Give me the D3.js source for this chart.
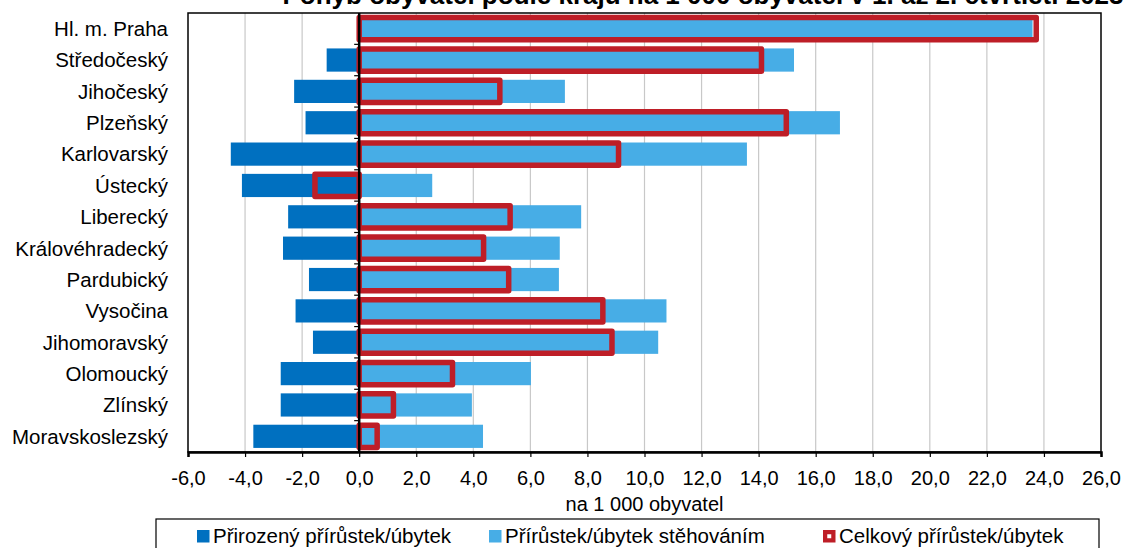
<!DOCTYPE html>
<html>
<head>
<meta charset="utf-8">
<script src="https://cdn.jsdelivr.net/npm/d3@7"></script>
<style>
  body { margin: 0; background: #fff; }
  svg { display: block; font-family: "Liberation Sans", Arial, sans-serif; }
</style>
</head>
<body>
<svg id="chart" width="1126" height="548"></svg>
<script>
// Kraje a hodnoty na 1 000 obyvatel
var regions   = ["Hl. m. Praha", "Středočeský", "Jihočeský", "Plzeňský", "Karlovarský", "Ústecký",
                 "Liberecký", "Královéhradecký", "Pardubický", "Vysočina", "Jihomoravský",
                 "Olomoucký", "Zlínský", "Moravskoslezský"];
var natural   = [0.1, -1.14, -2.28, -1.88, -4.50, -4.11, -2.49, -2.67, -1.76, -2.23, -1.62, -2.75, -2.75, -3.71];
var migration = [23.6, 15.24, 7.21, 16.85, 13.59, 2.56, 7.78, 7.03, 7.00, 10.77, 10.48, 6.02, 3.95, 4.34];
var total     = [23.73, 14.10, 4.93, 14.97, 9.09, -1.55, 5.29, 4.36, 5.24, 8.54, 8.86, 3.27, 1.20, 0.63];
var xTicks    = [-6, -4, -2, 0, 2, 4, 6, 8, 10, 12, 14, 16, 18, 20, 22, 24, 26];
var legendLabels = ["Přirozený přírůstek/úbytek", "Přírůstek/úbytek stěhováním", "Celkový přírůstek/úbytek"];

var colDark = "#0070c0", colLight = "#47ade6", colRed = "#be1e27";

var svg = d3.select("#chart");
var margin = { left: 188, right: 1101, top: 13, bottom: 452 };

var x = d3.scaleLinear().domain([-6, 26]).range([margin.left, margin.right]);
var y = d3.scaleBand().domain(regions).range([margin.top, margin.bottom])
          .paddingInner(0.26).paddingOuter(0.13);

var fmt = function(v) { return d3.format(".1f")(v).replace(".", ",").replace("−", "-"); };

// Title (top of it is cut off in the original)
svg.append("text")
   .attr("x", 703).attr("y", 4)
   .attr("text-anchor", "middle")
   .style("font-size", "26px").style("font-weight", "bold")
   .text("Pohyb obyvatel podle krajů na 1 000 obyvatel v 1. až 2. čtvrtletí 2023");

// gridlines
svg.append("g").selectAll("line")
   .data(xTicks.filter(function(d) { return d > -6 && d < 26; }))
   .enter().append("line")
   .attr("x1", function(d) { return x(d); }).attr("x2", function(d) { return x(d); })
   .attr("y1", margin.top).attr("y2", margin.bottom)
   .attr("stroke", "#c8c8c8").attr("stroke-width", 1.2);

function barX(v) { return Math.min(x(0), x(v)); }
function barW(v) { return Math.abs(x(v) - x(0)); }

var rows = regions.map(function(r, i) {
    return { name: r, nat: natural[i], mig: migration[i], tot: total[i] };
});

// natural
svg.append("g").selectAll("rect").data(rows).enter().append("rect")
   .attr("x", function(d) { return barX(d.nat); })
   .attr("y", function(d) { return y(d.name); })
   .attr("width", function(d) { return barW(d.nat); })
   .attr("height", y.bandwidth())
   .attr("fill", colDark);

// migration
svg.append("g").selectAll("rect").data(rows).enter().append("rect")
   .attr("x", function(d) { return barX(d.mig); })
   .attr("y", function(d) { return y(d.name); })
   .attr("width", function(d) { return barW(d.mig); })
   .attr("height", y.bandwidth())
   .attr("fill", colLight);

// total - outline only
svg.append("g").selectAll("rect").data(rows).enter().append("rect")
   .attr("x", function(d) { return barX(d.tot); })
   .attr("y", function(d) { return y(d.name) + 0.5; })
   .attr("width", function(d) { return barW(d.tot); })
   .attr("height", y.bandwidth() - 1)
   .attr("fill", "none")
   .attr("stroke", colRed).attr("stroke-width", 5.5)
   .attr("stroke-linejoin", "round");

// plot border
svg.append("rect")
   .attr("x", margin.left).attr("y", margin.top)
   .attr("width", margin.right - margin.left).attr("height", margin.bottom - margin.top)
   .attr("fill", "none").attr("stroke", "#000").attr("stroke-width", 1.5);

// zero (category) axis with ticks at band boundaries
svg.append("line")
   .attr("x1", x(0)).attr("x2", x(0))
   .attr("y1", margin.top).attr("y2", margin.bottom)
   .attr("stroke", "#000").attr("stroke-width", 2.5);
svg.append("g").selectAll("line")
   .data(regions.slice(1)).enter().append("line")
   .attr("x1", x(0) - 5).attr("x2", x(0))
   .attr("y1", function(d) { return y(d) - y.step() * y.paddingInner() / 2; })
   .attr("y2", function(d) { return y(d) - y.step() * y.paddingInner() / 2; })
   .attr("stroke", "#000").attr("stroke-width", 1.2);

// category labels
svg.append("g").selectAll("text").data(regions).enter().append("text")
   .attr("x", 168)
   .attr("y", function(d) { return y(d) + y.bandwidth() / 2; })
   .attr("dy", "0.36em")
   .attr("text-anchor", "end")
   .style("font-size", "20.5px")
   .text(function(d) { return d; });

// bottom axis
var xAxis = d3.axisBottom(x).tickValues(xTicks).tickSize(5).tickFormat(fmt);
var gx = svg.append("g").attr("transform", "translate(0," + margin.bottom + ")").call(xAxis);
gx.select(".domain").attr("stroke", "#000").attr("stroke-width", 2.5);
gx.selectAll(".tick line").attr("stroke", "#000").attr("stroke-width", 1.2);
gx.selectAll(".tick text")
  .attr("y", 33).attr("dy", null)
  .style("font-size", "20px").style("font-family", "'Liberation Sans', Arial, sans-serif")
  .attr("fill", "#000");

svg.append("text")
   .attr("x", x(10)).attr("y", 511)
   .attr("text-anchor", "middle")
   .style("font-size", "20px")
   .text("na 1 000 obyvatel");

// legend
svg.append("rect")
   .attr("x", 156).attr("y", 519).attr("width", 943).attr("height", 40)
   .attr("fill", "#fff").attr("stroke", "#000").attr("stroke-width", 1.2);

var legendX = [197, 489, 823];
var lg = svg.append("g").selectAll("g").data(legendLabels).enter().append("g")
   .attr("transform", function(d, i) { return "translate(" + legendX[i] + ",530)"; });
lg.append("rect")
  .attr("width", 12.5).attr("height", 12.5)
  .attr("fill", function(d, i) { return i === 0 ? colDark : (i === 1 ? colLight : colRed); });
lg.filter(function(d, i) { return i === 2; }).append("rect")
  .attr("x", 4.25).attr("y", 4.25).attr("width", 4).attr("height", 4).attr("fill", "#fff");
lg.append("text")
  .attr("x", 16).attr("y", 12.5)
  .style("font-size", "20.5px")
  .text(function(d) { return d; });
</script>
</body>
</html>
